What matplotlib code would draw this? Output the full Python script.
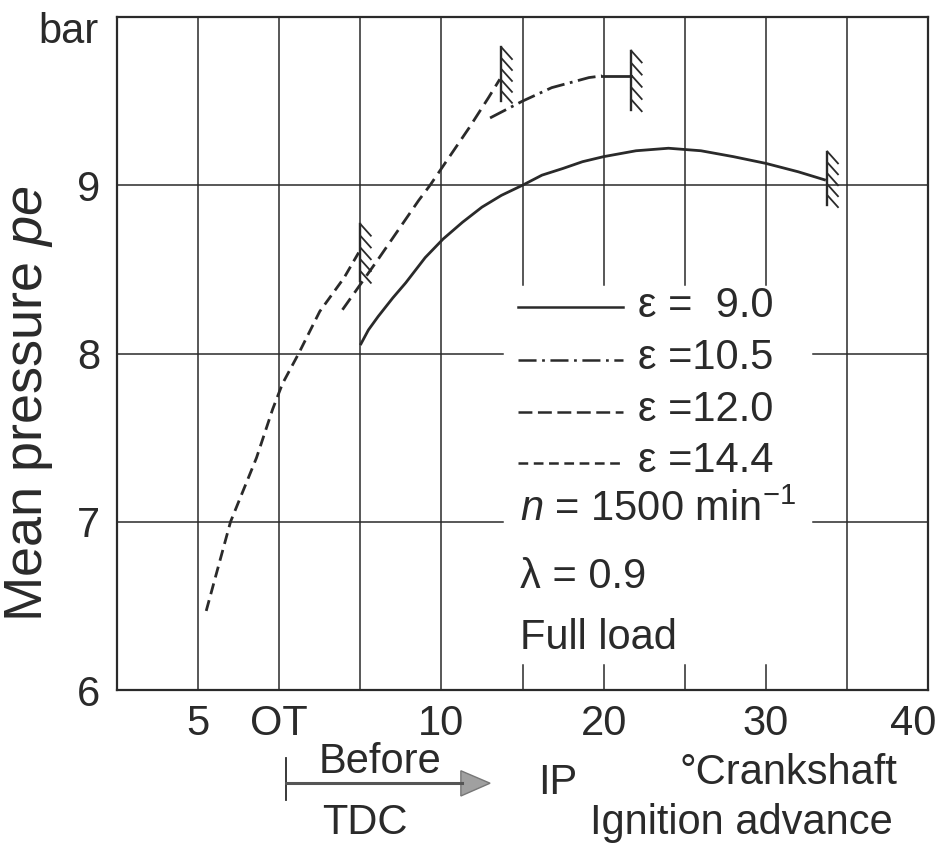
import matplotlib
matplotlib.use("Agg")
import matplotlib.pyplot as plt
import matplotlib.transforms as mtransforms
from matplotlib.patches import Polygon
import numpy as np

plt.rcParams['font.family'] = ['Liberation Sans', 'DejaVu Sans']
plt.rcParams['mathtext.fontset'] = 'custom'
plt.rcParams['mathtext.rm'] = 'Liberation Sans'
plt.rcParams['mathtext.it'] = 'Liberation Sans:italic'
plt.rcParams['lines.scale_dashes'] = False

INK = '#2a2a2a'

# ---- data (ignition advance in deg crank, mean pressure in bar) ----
x_e90 = [5.0, 5.5, 6.1, 7.0, 7.8, 9.0, 10.1, 11.3, 12.5, 13.7, 15.0, 16.2, 17.5,
         18.7, 20.0, 22.0, 24.0, 26.0, 28.0, 30.0, 32.0, 33.7]
y_e90 = [8.05, 8.14, 8.22, 8.33, 8.42, 8.57, 8.68, 8.78, 8.87, 8.94, 9.00, 9.06, 9.10,
         9.14, 9.17, 9.205, 9.22, 9.205, 9.17, 9.13, 9.08, 9.03]

x_e105 = [13.0, 15.0, 16.8, 19.1, 19.9]
y_e105 = [9.40, 9.50, 9.58, 9.64, 9.65]
x_e105_limit = [19.9, 21.7]
y_e105_limit = [9.65, 9.65]

x_e120 = [3.9, 6.1, 8.6, 9.3, 11.7, 12.9, 13.6]
y_e120 = [8.26, 8.56, 8.91, 9.00, 9.34, 9.52, 9.63]

x_e144 = [-4.5, -3.0, -1.4, -0.4, 0.2, 1.2, 2.5, 4.0, 4.9]
y_e144 = [6.47, 7.00, 7.38, 7.67, 7.82, 8.00, 8.25, 8.45, 8.60]

# knock limits: (x, y_low, y_high)
knock_x = [33.8, 21.7, 13.7, 5.0]
knock_ylo = [8.88, 9.45, 9.50, 8.43]
knock_yhi = [9.20, 9.80, 9.82, 8.77]

legend_labels = ['ε =  9.0', 'ε =10.5', 'ε =12.0', 'ε =14.4']
xtick_vals = [-5, 0, 10, 20, 30, 40]
xtick_labels = ['5', 'OT', '10', '20', '30', '40']
ytick_vals = [6, 7, 8, 9]
ytick_labels = ['6', '7', '8', '9']

# ---- figure ----
fig = plt.figure(figsize=(9.41, 8.43), dpi=100)
fig.patch.set_facecolor('white')
ax = fig.add_axes([117/941, 1-690/843, (928-117)/941, (690-17)/843])
ax.set_xlim(-10, 40)
ax.set_ylim(6, 10)
for s in ax.spines.values():
    s.set_color(INK)
    s.set_linewidth(1.6)

# grid
glw = 1.1
for gx in [-5, 0, 5, 10, 35]:
    ax.plot([gx, gx], [6, 10], color=INK, lw=glw, zorder=1)
for gx in [15, 20, 25, 30]:
    ax.plot([gx, gx], [8.41, 10], color=INK, lw=glw, zorder=1)
    ax.plot([gx, gx], [6, 6.15], color=INK, lw=glw, zorder=1)
ax.plot([-10, 40], [9, 9], color=INK, lw=glw, zorder=1)
for gy in [7, 8]:
    ax.plot([-10, 13.8], [gy, gy], color=INK, lw=glw, zorder=1)
    ax.plot([32.9, 40], [gy, gy], color=INK, lw=glw, zorder=1)

# curves
lw = 2.0
ax.plot(x_e90, y_e90, color=INK, lw=lw, solid_capstyle='butt', zorder=3)
ax.plot(x_e105, y_e105, color=INK, lw=lw, dashes=(13, 4, 2, 4), zorder=3)
ax.plot(x_e105_limit, y_e105_limit, color=INK, lw=lw, zorder=3)
ax.plot(x_e120, y_e120, color=INK, lw=lw, dashes=(10, 5), zorder=3)
ax.plot(x_e144, y_e144, color=INK, lw=lw, dashes=(8, 4.5), zorder=3)

# knock-limit hatches
for kx, k0, k1 in zip(knock_x, knock_ylo, knock_yhi):
    ax.plot([kx, kx], [k0, k1], color=INK, lw=1.7, zorder=3)
    for yy in np.linspace(k1, k0 + 0.06, 5):
        ax.plot([kx, kx + 0.65], [yy, yy - 0.07], color=INK, lw=1.3, zorder=3)

# legend-like block
fs = 30
leg_y = [8.274, 7.964, 7.655, 7.351]
styles = [dict(), dict(dashes=(13, 4, 2, 4)), dict(dashes=(10, 4)), dict(dashes=(7, 4))]
for yy, lab, st in zip(leg_y, legend_labels, styles):
    ax.plot([14.75, 21.2], [yy, yy], color=INK, lw=1.8, **st)
    ax.text(22.1, yy + 0.01, lab, fontsize=fs, color=INK, va='center', ha='left')
ax.text(14.85, 7.07, r'$\mathit{n}$ = 1500 min$^{-1}$', fontsize=fs, color=INK,
        va='center', ha='left')
ax.text(14.85, 6.67, 'λ = 0.9', fontsize=fs, color=INK, va='center', ha='left')
ax.text(14.85, 6.31, 'Full load', fontsize=fs, color=INK, va='center', ha='left')

# ticks
ax.set_xticks(xtick_vals)
ax.set_xticklabels(xtick_labels)
ax.set_yticks(ytick_vals)
ax.set_yticklabels(ytick_labels)
ax.tick_params(axis='both', length=0, labelsize=fs, colors=INK)
ax.tick_params(axis='x', pad=10)
ax.tick_params(axis='y', pad=12)
last = ax.get_xticklabels()[-1]
last.set_ha('right')
last.set_transform(last.get_transform() +
                   mtransforms.ScaledTranslation(8/100, 0, fig.dpi_scale_trans))

ax.text(-13.0, 9.91, 'bar', fontsize=fs, color=INK, ha='center', va='center', clip_on=False)
ax.set_ylabel(r'Mean pressure $\mathit{pe}$', fontsize=39, color=INK)
ax.yaxis.set_label_coords(-0.076, 0.425)

# bottom annotation
ax.plot([0.4, 0.4], [5.345, 5.595], color=INK, lw=1.3, clip_on=False)
ax.plot([0.4, 11.3], [5.446, 5.446], color='#555555', lw=2.2, clip_on=False)
head = Polygon([[11.2, 5.52], [13.0, 5.446], [11.2, 5.37]], closed=True,
               facecolor='#a0a0a0', edgecolor='#777777', lw=1, clip_on=False)
ax.add_patch(head)
ax.text(6.2, 5.57, 'Before', fontsize=fs, color=INK, ha='center', va='center', clip_on=False)
ax.text(5.3, 5.21, 'TDC', fontsize=fs, color=INK, ha='center', va='center', clip_on=False)
ax.text(17.2, 5.446, 'IP', fontsize=fs, color=INK, ha='center', va='center', clip_on=False)
ax.text(31.4, 5.506, '°Crankshaft', fontsize=fs, color=INK, ha='center', va='center', clip_on=False)
ax.text(28.5, 5.208, 'Ignition advance', fontsize=fs, color=INK, ha='center', va='center', clip_on=False)

fig.savefig('out.png', dpi=100)
